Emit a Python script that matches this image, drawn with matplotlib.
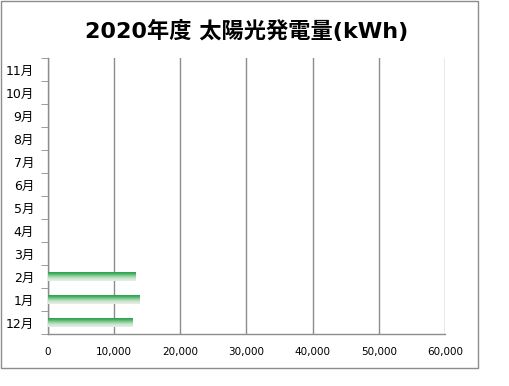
import matplotlib
matplotlib.use("Agg")
import matplotlib.pyplot as plt
import numpy as np
from matplotlib.colors import LinearSegmentedColormap
from matplotlib.patches import Rectangle

plt.rcParams['font.family'] = ['Noto Sans CJK JP', 'DejaVu Sans']

# data (bottom -> top)
months = ["12月", "1月", "2月", "3月", "4月", "5月", "6月", "7月", "8月", "9月", "10月", "11月"]
kwh = [12700, 13900, 13250, 0, 0, 0, 0, 0, 0, 0, 0, 0]
x_ticks = [0, 10000, 20000, 30000, 40000, 50000, 60000]
title = "2020年度 太陽光発電量(kWh)"

grey = "#8c8c8c"
fig = plt.figure(figsize=(5.10, 3.86), dpi=100)

# outer chart frame
fig.patches.append(Rectangle((0.002, 0.047), 0.935, 0.951, transform=fig.transFigure,
                             fill=False, edgecolor=grey, linewidth=1.0))

ax = fig.add_axes([0.0941, 0.1347, 0.7784, 0.715])
pos = np.arange(len(months))
bars = ax.barh(pos, kwh, height=0.4, color="none", edgecolor="none", zorder=3)

# vertical gradient: green at top fading to pale grey at bottom
cmap = LinearSegmentedColormap.from_list(
    "g", ["#e9ece9", "#cfe6d2", "#8fd09c", "#3fae5a", "#23964a"])
grad = np.linspace(0, 1, 64).reshape(-1, 1)
for b in bars:
    w = b.get_width()
    if w <= 0:
        continue
    y0 = b.get_y()
    im = ax.imshow(grad, cmap=cmap, aspect="auto", origin="lower",
                   extent=(0, w, y0, y0 + b.get_height()), zorder=3)
    im.set_clip_path(b)

ax.set_xlim(0, 60000)
ax.set_ylim(-0.5, len(months) - 0.5)
ax.set_xticks(x_ticks)
ax.set_xticklabels([f"{v:,}" for v in x_ticks], fontsize=7.5, family="DejaVu Sans")
ax.set_yticks(pos)
ax.set_yticklabels(months, fontsize=9, family=["DejaVu Sans", "Noto Sans CJK JP"])
ax.set_yticks(np.arange(-0.5, len(months)), minor=True)
ax.tick_params(axis="y", which="major", length=0, pad=10)
ax.tick_params(axis="y", which="minor", length=5, color=grey, direction="out")
ax.tick_params(axis="x", length=0, pad=9)
ax.grid(axis="x", color=grey, linewidth=1.0, zorder=0)
ax.set_axisbelow(True)
for s in ["top", "right"]:
    ax.spines[s].set_visible(False)
for s in ["left", "bottom"]:
    ax.spines[s].set_color(grey)
    ax.spines[s].set_linewidth(1.0)

fig.text(0.484, 0.92, title, ha="center", va="center", fontsize=16,
         fontweight="bold", family=["DejaVu Sans", "Noto Sans CJK JP"])

fig.savefig("out.png", dpi=100, facecolor="white")
